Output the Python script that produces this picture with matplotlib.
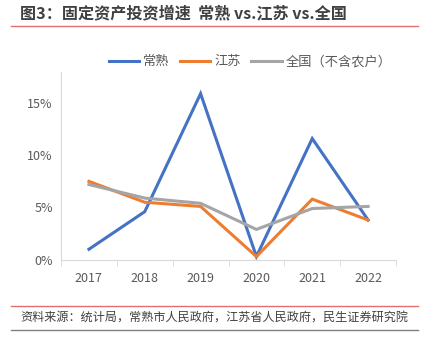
import matplotlib.pyplot as plt
from matplotlib.ticker import FuncFormatter
from matplotlib.lines import Line2D

plt.rcParams['font.family'] = ['Noto Sans CJK SC', 'DejaVu Sans']

years = ["2017", "2018", "2019", "2020", "2021", "2022"]
changshu = [1.0, 4.6, 15.9, 0.3, 11.6, 3.8]
jiangsu = [7.5, 5.5, 5.1, 0.3, 5.8, 3.8]
national = [7.2, 5.9, 5.4, 2.9, 4.9, 5.1]

series_names = ["常熟", "江苏", "全国（不含农户）"]
colors = ["#4472C4", "#ED7D31", "#A5A5A5"]

fig = plt.figure(figsize=(4.21, 3.38), dpi=100)
W, H = 421, 338

# header and footer
fig.text(20 / W, 1 - 13 / H, "图3：固定资产投资增速  常熟 vs.江苏 vs.全国",
         fontsize=11.6, fontweight='bold', color='#404040', va='center', ha='left')
fig.add_artist(Line2D([11 / W, 418 / W], [1 - 26 / H, 1 - 26 / H], color='#E07070', lw=1))
fig.add_artist(Line2D([11 / W, 418 / W], [1 - 306 / H, 1 - 306 / H], color='#E07070', lw=1))
fig.add_artist(Line2D([11 / W, 418 / W], [1 - 330 / H, 1 - 330 / H], color='#808080', lw=1))
fig.text(20 / W, 1 - 318 / H, "资料来源：统计局，常熟市人民政府，江苏省人民政府，民生证券研究院",
         fontsize=8.7, color='#404040', va='center', ha='left')

ax = fig.add_axes([61 / W, 1 - 259.7 / H, (396 - 61) / W, (259.7 - 71.7) / H])
x = range(len(years))
for vals, name, c in zip([changshu, jiangsu, national], series_names, colors):
    ax.plot(x, vals, color=c, lw=2.2, label=name, solid_joinstyle='miter')

ax.set_xlim(-0.5, len(years) - 0.5)
ax.set_ylim(0, 18)
ax.set_yticks([0, 5, 10, 15])
ax.yaxis.set_major_formatter(FuncFormatter(lambda v, p: f"{v:.0f}%"))
ax.set_xticks(list(x))
ax.set_xticklabels(years)
ax.set_xticks([i - 0.5 for i in range(len(years) + 1)], minor=True)

for s in ['top', 'right']:
    ax.spines[s].set_visible(False)
for s in ['left', 'bottom']:
    ax.spines[s].set_color('#D9D9D9')
ax.tick_params(axis='x', which='major', length=0, pad=9, labelsize=9, colors='#595959')
ax.tick_params(axis='x', which='minor', length=4, color='#D9D9D9')
ax.tick_params(axis='y', length=0, pad=6, labelsize=9, colors='#595959')

ax.legend(loc='lower center', bbox_to_anchor=(0.565, 0.99), ncol=3, frameon=False,
          fontsize=9.5, labelcolor='#595959', handlelength=2.3, columnspacing=0.8,
          handletextpad=0.3, borderaxespad=0)

fig.savefig("out.png", dpi=100)
